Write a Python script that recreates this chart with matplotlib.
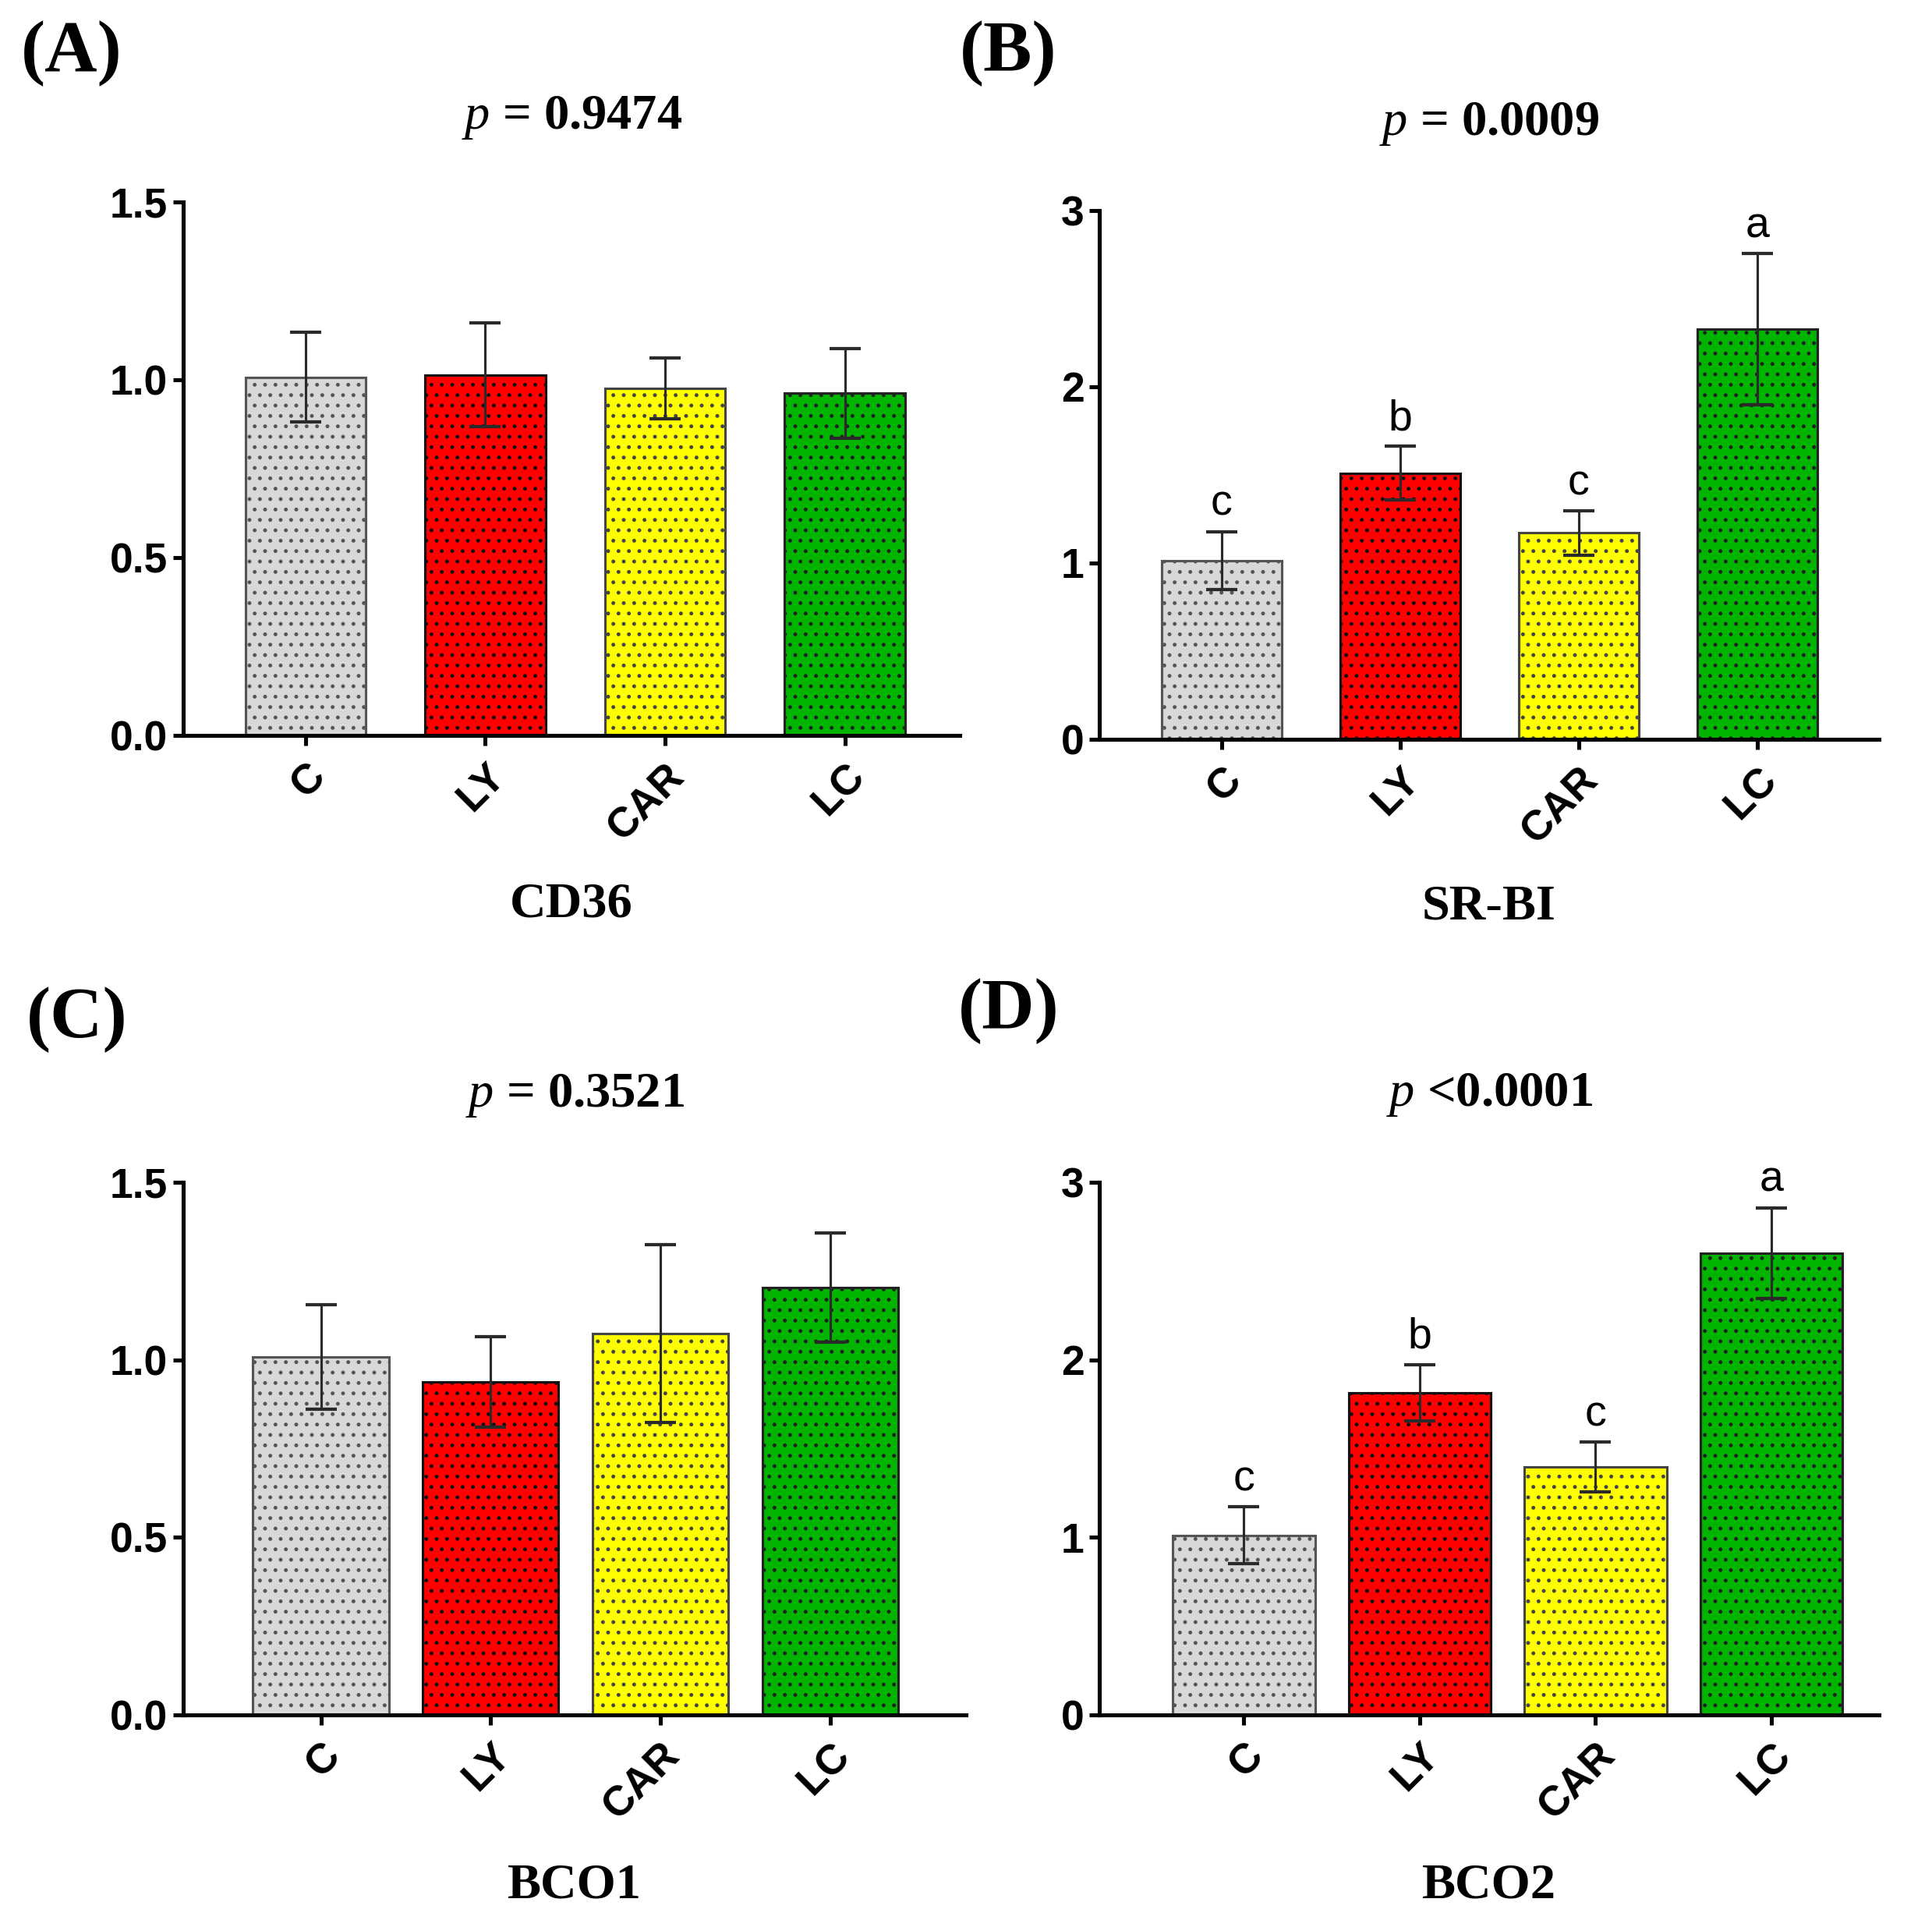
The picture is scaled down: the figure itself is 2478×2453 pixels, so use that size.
import matplotlib
matplotlib.use("Agg")
import matplotlib.pyplot as plt
import numpy as np

plt.rcParams['mathtext.fontset'] = 'custom'
plt.rcParams['mathtext.it'] = 'Liberation Serif:italic'
plt.rcParams['mathtext.rm'] = 'Liberation Serif:bold'
plt.rcParams['hatch.linewidth'] = 1.0

groups = ["C", "LY", "CAR", "LC"]
colors = ["#d8d8d8", "#ff0000", "#ffff00", "#00b400"]
edgecolors = ["#555555", "#111111", "#444444", "#222222"]

cd36_mean = [1.007, 1.014, 0.976, 0.962]
cd36_sem = [0.126, 0.146, 0.085, 0.126]
srbi_mean = [1.012, 1.51, 1.17, 2.326]
srbi_sem = [0.165, 0.152, 0.126, 0.428]
bco1_mean = [1.008, 0.938, 1.074, 1.203]
bco1_sem = [0.147, 0.127, 0.250, 0.154]
bco2_mean = [1.012, 1.814, 1.396, 2.603]
bco2_sem = [0.160, 0.160, 0.140, 0.255]

srbi_letters = ["c", "b", "c", "a"]
bco2_letters = ["c", "b", "c", "a"]

panels = [
    dict(label="(A)", title=r"$p$ = 0.9474", gene="CD36", mean=cd36_mean, sem=cd36_sem,
         letters=None, ymax=1.5, yticks=[0.0, 0.5, 1.0, 1.5], fmt="{:.1f}",
         rect=[0.0949, 0.6155, 0.4019, 0.2790], xlim=(-0.68, 3.64), width=0.67,
         lab_xy=(0.037, 0.972), title_y=0.9385, gene_y=0.5269),
    dict(label="(B)", title=r"$p$ = 0.0009", gene="SR-BI", mean=srbi_mean, sem=srbi_sem,
         letters=srbi_letters, ymax=3, yticks=[0, 1, 2, 3], fmt="{:.0f}",
         rect=[0.5692, 0.6136, 0.4032, 0.2764], xlim=(-0.683, 3.68), width=0.67,
         lab_xy=(0.522, 0.972), title_y=0.9353, gene_y=0.5256),
    dict(label="(C)", title=r"$p$ = 0.3521", gene="BCO1", mean=bco1_mean, sem=bco1_sem,
         letters=None, ymax=1.5, yticks=[0.0, 0.5, 1.0, 1.5], fmt="{:.1f}",
         rect=[0.0949, 0.1036, 0.4051, 0.2783], xlim=(-0.81, 3.80), width=0.80,
         lab_xy=(0.040, 0.467), title_y=0.4272, gene_y=0.0142),
    dict(label="(D)", title=r"$p$ <0.0001", gene="BCO2", mean=bco2_mean, sem=bco2_sem,
         letters=bco2_letters, ymax=3, yticks=[0, 1, 2, 3], fmt="{:.0f}",
         rect=[0.5692, 0.1036, 0.4032, 0.2783], xlim=(-0.82, 3.61), width=0.81,
         lab_xy=(0.522, 0.4715), title_y=0.4278, gene_y=0.0142),
]

dpi = 160
fig = plt.figure(figsize=(2478 / dpi, 2453 / dpi), dpi=dpi)

for p in panels:
    ax = fig.add_axes(p["rect"])
    x = np.arange(len(groups))
    ax.bar(x, p["mean"], width=p["width"], color=colors, edgecolor=edgecolors,
           linewidth=1.4, hatch="..", zorder=2)
    ax.errorbar(x, p["mean"], yerr=p["sem"], fmt="none", ecolor="#2a2a2a",
                elinewidth=1.4, capsize=9, capthick=1.9, zorder=3)
    ax.set_xlim(*p["xlim"])
    ax.set_ylim(0, p["ymax"])
    ax.set_yticks(p["yticks"])
    ax.set_yticklabels([p["fmt"].format(v) for v in p["yticks"]],
                       fontfamily="Liberation Sans", fontweight="bold", fontsize=24)
    ax.set_xticks(x)
    ax.set_xticklabels(groups, rotation=45, ha="right", va="top", rotation_mode="anchor",
                       fontfamily="Liberation Sans", fontweight="bold", fontsize=24)
    for s in ["top", "right"]:
        ax.spines[s].set_visible(False)
    for s in ["left", "bottom"]:
        ax.spines[s].set_linewidth(2.3)
    ax.tick_params(axis="both", width=2.3, length=6, direction="out", pad=3)
    ax.tick_params(axis="x", pad=6)
    if p["letters"]:
        for xi, m, s, t in zip(x, p["mean"], p["sem"], p["letters"]):
            ax.annotate(t, (xi, m + s), xytext=(0, 4), textcoords="offset points",
                        ha="center", va="bottom", fontsize=25,
                        fontfamily="Liberation Sans")
    cx = p["rect"][0] + p["rect"][2] / 2
    fig.text(cx, p["title_y"], p["title"], ha="center", va="center", fontsize=29,
             fontfamily="Liberation Serif", fontweight="bold")
    fig.text(cx, p["gene_y"], p["gene"], ha="center", va="center", fontsize=29,
             fontfamily="Liberation Serif", fontweight="bold")
    fig.text(p["lab_xy"][0], p["lab_xy"][1], p["label"], ha="center", va="center",
             fontsize=42, fontfamily="Liberation Serif", fontweight="bold")

fig.savefig("out.png", dpi=dpi, facecolor="white")
